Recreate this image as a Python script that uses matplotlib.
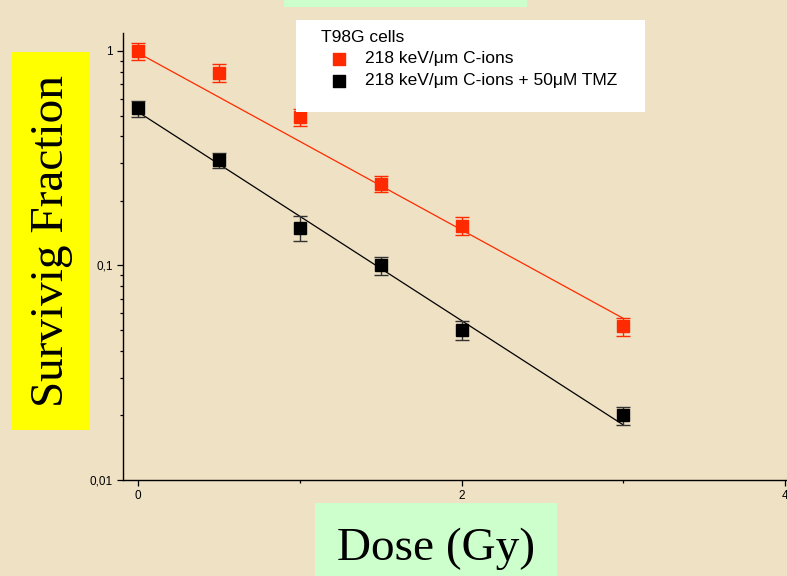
import numpy as np
import matplotlib
matplotlib.use("Agg")
import matplotlib.pyplot as plt
from matplotlib.patches import Rectangle
from matplotlib.ticker import FixedLocator, LogLocator, FuncFormatter, NullFormatter

# survival data, T98G cells
dose = [0, 0.5, 1, 1.5, 2, 3]
sf_c = [1.0, 0.79, 0.49, 0.24, 0.153, 0.052]
err_c = [0.095, 0.075, 0.045, 0.02, 0.015, 0.005]
sf_tmz = [0.54, 0.31, 0.15, 0.10, 0.050, 0.020]
err_tmz = [0.047, 0.025, 0.02, 0.01, 0.005, 0.002]

# exponential fits S = a * exp(-k * D)
fit_c = (0.98, 0.95)
fit_tmz = (0.52, 1.12)

label_c = "218 keV/\u03bcm C-ions"
label_tmz = "218 keV/\u03bcm C-ions + 50\u03bcM TMZ"

W, H = 787, 576
bg = "#EFE1C3"
red = "#FF2A00"


def fx(px):
    return px / W


def fy(py):
    return 1 - py / H


fig = plt.figure(figsize=(W / 100, H / 100), dpi=100, facecolor=bg)

# axes box in pixel terms: left 123, right 787, top 33, bottom 480
ax = fig.add_axes([fx(123), fy(480), fx(787) - fx(123), fy(33) - fy(480)])
ax.set_facecolor("none")
ax.set_yscale("log")
ax.set_xlim(-0.0927, 4.012)
ax.set_ylim(0.01, 1.213)

d = np.linspace(0, 3, 100)
ax.plot(d, fit_c[0] * np.exp(-fit_c[1] * d), color=red, lw=0.9)
ax.plot(d, fit_tmz[0] * np.exp(-fit_tmz[1] * d), color="black", lw=0.9)

ax.errorbar(dose, sf_c, yerr=err_c, fmt="s", color=red, ms=8.5, capsize=4.8,
            elinewidth=1.0, capthick=1.0, mec=red, zorder=3)
ax.errorbar(dose, sf_tmz, yerr=err_tmz, fmt="s", color="black", ecolor="#333333",
            ms=8.5, capsize=4.8, elinewidth=1.0, capthick=1.0, zorder=3)

for s in ["top", "right"]:
    ax.spines[s].set_visible(False)
for s in ["left", "bottom"]:
    ax.spines[s].set_linewidth(1.0)

ax.xaxis.set_major_locator(FixedLocator([0, 2, 4]))
ax.xaxis.set_minor_locator(FixedLocator([1, 3]))
ax.yaxis.set_major_locator(LogLocator(base=10))
ax.yaxis.set_minor_locator(LogLocator(base=10, subs=np.arange(2, 10)))
ax.yaxis.set_minor_formatter(NullFormatter())
ax.yaxis.set_major_formatter(FuncFormatter(lambda v, p: {1: "1", 0.1: "0,1", 0.01: "0,01"}.get(round(v, 4), "")))
ax.tick_params(which="major", direction="out", length=4.5, width=0.9, labelsize=8.5, pad=3)
ax.tick_params(which="minor", direction="out", length=2.5, width=0.9)
for t in ax.get_xticklabels() + ax.get_yticklabels():
    t.set_fontfamily("Liberation Sans")

# legend panel
fig.add_artist(Rectangle((fx(296), fy(112)), fx(645) - fx(296), fy(20) - fy(112),
                         transform=fig.transFigure, facecolor="white", edgecolor="none", zorder=4))
fig.text(fx(321), fy(42), "T98G cells", fontsize=12.5, family="Liberation Sans",
         va="baseline", ha="left", zorder=5)
hc = ax.scatter([], [], marker="s", color=red, s=72)
ht = ax.scatter([], [], marker="s", color="black", s=72)
leg = fig.legend([hc, ht], [label_c, label_tmz], loc="upper left",
                 bbox_to_anchor=(fx(330), fy(51)), frameon=False, borderpad=0,
                 borderaxespad=0, handlelength=1.0, handletextpad=1.0, labelspacing=0.39,
                 prop={"family": "Liberation Sans", "size": 12.5})
leg.set_zorder(6)

# axis title boxes
serif = "Liberation Serif"
fig.add_artist(Rectangle((fx(12), fy(430)), fx(89) - fx(12), fy(52) - fy(430),
                         transform=fig.transFigure, facecolor="#FFFF00", edgecolor="none"))
fig.text(fx(52), fy(241), "Survivig Fraction", rotation=90, fontsize=34, family=serif,
         ha="center", va="center")
fig.add_artist(Rectangle((fx(315), fy(576)), fx(557) - fx(315), fy(503) - fy(576),
                         transform=fig.transFigure, facecolor="#CCFFCC", edgecolor="none"))
fig.text(fx(436), fy(549), "Dose (Gy)", fontsize=34, family=serif, ha="center", va="center")
fig.add_artist(Rectangle((fx(284), fy(7)), fx(527) - fx(284), fy(0) - fy(7),
                         transform=fig.transFigure, facecolor="#CCFFCC", edgecolor="none"))

fig.savefig("out.png", dpi=100, facecolor=bg)
